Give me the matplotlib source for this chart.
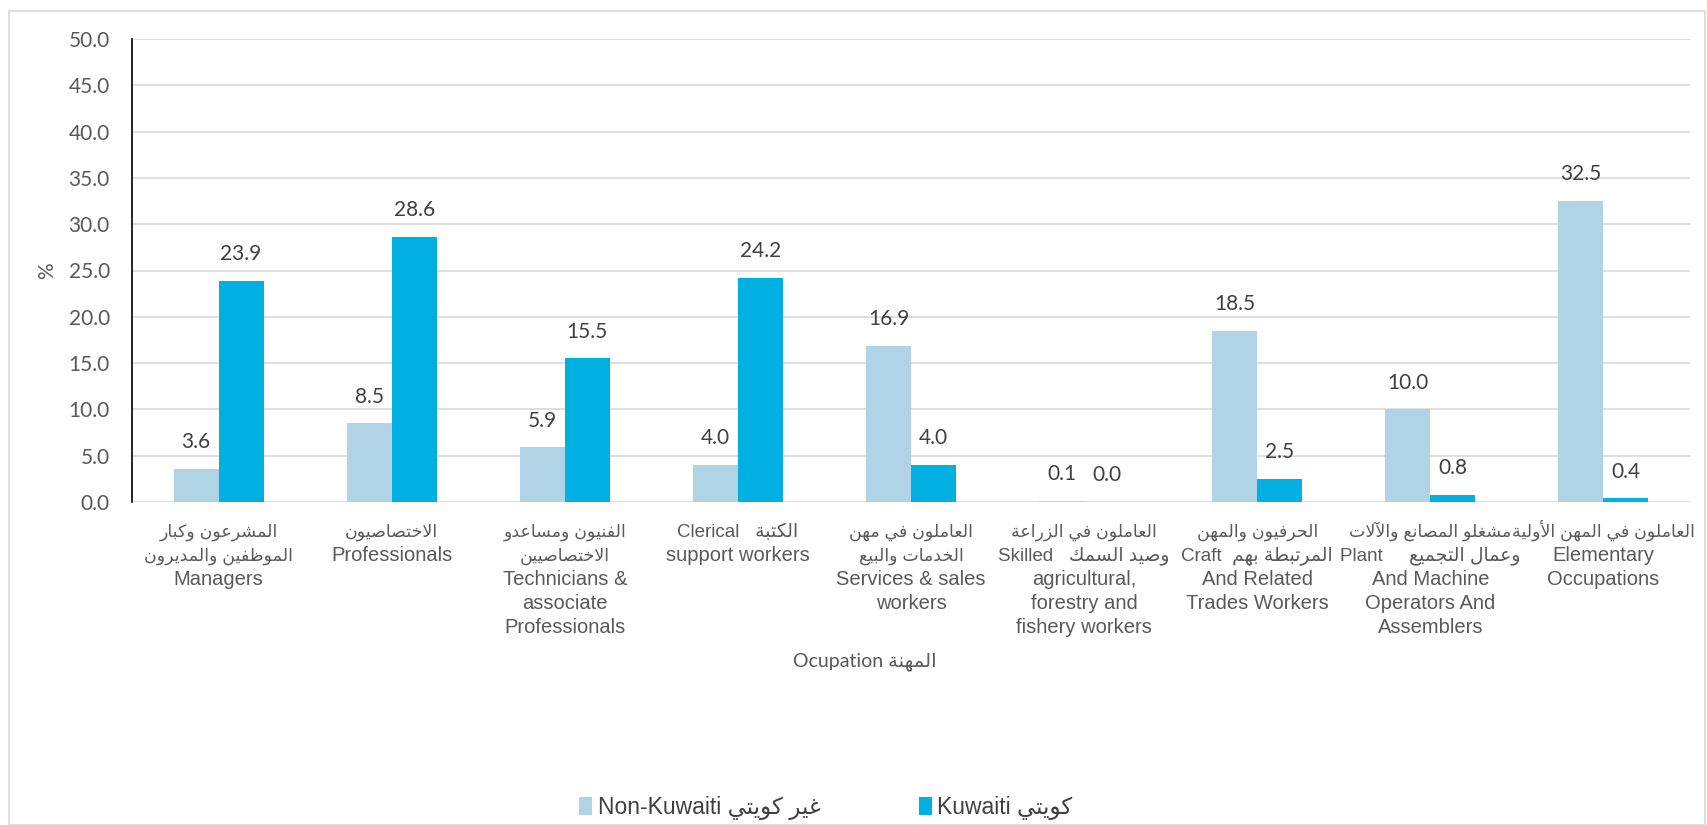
import re

import matplotlib
matplotlib.use("Agg")
import matplotlib.pyplot as plt
from matplotlib.patches import Patch, Rectangle

# Occupation shares (%) by nationality
occupations = [
    "المشرعون وكبار\nالموظفين والمديرون\nManagers",
    "الاختصاصيون\nProfessionals",
    "الفنيون ومساعدو\nالاختصاصيين\nTechnicians &\nassociate\nProfessionals",
    "Clerical   الكتبة\nsupport workers",
    "العاملون في مهن\nالخدمات والبيع\nServices & sales\nworkers",
    "العاملون في الزراعة\nSkilled   وصيد السمك\nagricultural,\nforestry and\nfishery workers",
    "الحرفيون والمهن\nCraft  المرتبطة بهم\nAnd Related\nTrades Workers",
    "مشغلو المصانع والآلات\nPlant     وعمال التجميع\nAnd Machine\nOperators And\nAssemblers",
    "العاملون في المهن الأولية\nElementary\nOccupations",
]
non_kuwaiti = [3.6, 8.5, 5.9, 4.0, 16.9, 0.1, 18.5, 10.0, 32.5]
kuwaiti = [23.9, 28.6, 15.5, 24.2, 4.0, 0.0, 2.5, 0.8, 0.4]
series_names = ["Non-Kuwaiti غير كويتي", "Kuwaiti كويتي"]
x_title = "Ocupation المهنة"
y_ticks = [0, 5, 10, 15, 20, 25, 30, 35, 40, 45, 50]

C_NON = "#B0D4E6"
C_KUW = "#00B0E2"

# --- minimal Arabic shaping (presentation forms + visual order) ---
AR_FORMS = {
    'ء': (0xFE80, 1),
    'آ': (0xFE81, 2), 'أ': (0xFE83, 2), 'ؤ': (0xFE85, 2), 'إ': (0xFE87, 2),
    'ئ': (0xFE89, 4), 'ا': (0xFE8D, 2), 'ب': (0xFE8F, 4), 'ة': (0xFE93, 2),
    'ت': (0xFE95, 4), 'ث': (0xFE99, 4), 'ج': (0xFE9D, 4), 'ح': (0xFEA1, 4),
    'خ': (0xFEA5, 4), 'د': (0xFEA9, 2), 'ذ': (0xFEAB, 2), 'ر': (0xFEAD, 2),
    'ز': (0xFEAF, 2), 'س': (0xFEB1, 4), 'ش': (0xFEB5, 4), 'ص': (0xFEB9, 4),
    'ض': (0xFEBD, 4), 'ط': (0xFEC1, 4), 'ظ': (0xFEC5, 4), 'ع': (0xFEC9, 4),
    'غ': (0xFECD, 4), 'ف': (0xFED1, 4), 'ق': (0xFED5, 4), 'ك': (0xFED9, 4),
    'ل': (0xFEDD, 4), 'م': (0xFEE1, 4), 'ن': (0xFEE5, 4), 'ه': (0xFEE9, 4),
    'و': (0xFEED, 2), 'ى': (0xFEEF, 2), 'ي': (0xFEF1, 4),
}
LAM_ALEF = {'آ': 0xFEF5, 'أ': 0xFEF7, 'إ': 0xFEF9, 'ا': 0xFEFB}


def shape_arabic(text):
    out = []
    i, n = 0, len(text)
    while i < n:
        ch = text[i]
        if ch not in AR_FORMS:
            out.append(ch)
            i += 1
            continue
        prev = text[i - 1] if i > 0 else ''
        joins_prev = prev in AR_FORMS and AR_FORMS[prev][1] == 4
        if ch == 'ل' and i + 1 < n and text[i + 1] in LAM_ALEF:
            out.append(chr(LAM_ALEF[text[i + 1]] + (1 if joins_prev else 0)))
            i += 2
            continue
        base, nf = AR_FORMS[ch]
        nxt = text[i + 1] if i + 1 < n else ''
        joins_next = nf == 4 and nxt in AR_FORMS and AR_FORMS[nxt][1] > 1
        if nf == 1:
            k = 0
        elif joins_prev and joins_next:
            k = 3
        elif joins_prev:
            k = 1
        elif joins_next:
            k = 2
        else:
            k = 0
        out.append(chr(base + k))
        i += 1
    return ''.join(reversed(out))


AR_RUN = re.compile(r'[\u0600-\u06FF]+(?: +[\u0600-\u06FF]+)*')


def bidi(s):
    return AR_RUN.sub(lambda m: shape_arabic(m.group()), s)


def has_latin(s):
    return re.search(r'[A-Za-z]', s) is not None


LABEL_FONT = ['Liberation Sans', 'DejaVu Sans']
NUM_FONT = ['Lato', 'DejaVu Sans']

fig = plt.figure(figsize=(17.08, 8.25), dpi=100)
fig.patches.append(Rectangle((9 / 1708, 0), 1696 / 1708, 1 - 11 / 825,
                             transform=fig.transFigure, fill=False,
                             edgecolor="#D9D9D9", linewidth=1.2))

ax = fig.add_axes([132 / 1708, 1 - 502 / 825, (1690 - 132) / 1708, (502 - 39) / 825])

idx = list(range(len(occupations)))
w = 0.26
ax.bar([i - w / 2 for i in idx], non_kuwaiti, width=w, color=C_NON, zorder=3)
ax.bar([i + w / 2 for i in idx], kuwaiti, width=w, color=C_KUW, zorder=3)

for i in idx:
    for xoff, v in ((-w / 2, non_kuwaiti[i]), (w / 2, kuwaiti[i])):
        ax.annotate(f"{v:.1f}", (i + xoff, v), xytext=(0, 12), textcoords="offset points",
                    ha="center", va="bottom", fontsize=15, color="#404040",
                    family=NUM_FONT)

ax.set_xlim(-0.5, len(occupations) - 0.5)
ax.set_ylim(0, 50)
ax.set_yticks(y_ticks)
ax.set_yticklabels([f"{t:.1f}" for t in y_ticks], family=NUM_FONT, fontsize=15,
                   color="#595959")
ax.tick_params(axis="y", length=0, pad=16)

# category labels, one text per line so Arabic lines can be set a bit smaller
ax.set_xticks(idx)
ax.set_xticklabels([])
ax.tick_params(axis="x", length=0)
for i, label in enumerate(occupations):
    for k, line in enumerate(label.split("\n")):
        if not has_latin(line):
            size = 12.5
        elif AR_RUN.search(line):
            size = 13.5
        else:
            size = 14.5
        ax.annotate(bidi(line), (i, 0), xycoords=ax.get_xaxis_transform(),
                    xytext=(0, -(25 + k * 17.3)), textcoords="offset points",
                    ha="center", va="baseline", fontsize=size, color="#595959",
                    family=LABEL_FONT)

ax.grid(axis="y", color="#D9D9D9", linewidth=1.2, zorder=0)
for side in ("top", "right", "bottom"):
    ax.spines[side].set_visible(False)
ax.spines["left"].set_color("black")
ax.spines["left"].set_linewidth(1.2)

ax.set_ylabel("%", family=NUM_FONT, fontsize=15, color="#595959", labelpad=8)
fig.text(865 / 1708, 1 - 662 / 825, bidi(x_title), ha="center", va="center",
         family=NUM_FONT, fontsize=14, color="#595959")

handles = [Patch(facecolor=C_NON, edgecolor="none"), Patch(facecolor=C_KUW, edgecolor="none")]
fig.legend(handles, [bidi(s) for s in series_names], loc="center",
           bbox_to_anchor=(826 / 1708, 1 - 808 / 825), ncol=2, frameon=False,
           prop={"family": LABEL_FONT, "size": 16.5},
           handlelength=0.55, handleheight=0.8, handletextpad=0.25,
           columnspacing=4.3, labelcolor="#404040")

fig.savefig("out.png", dpi=100, facecolor="white")
